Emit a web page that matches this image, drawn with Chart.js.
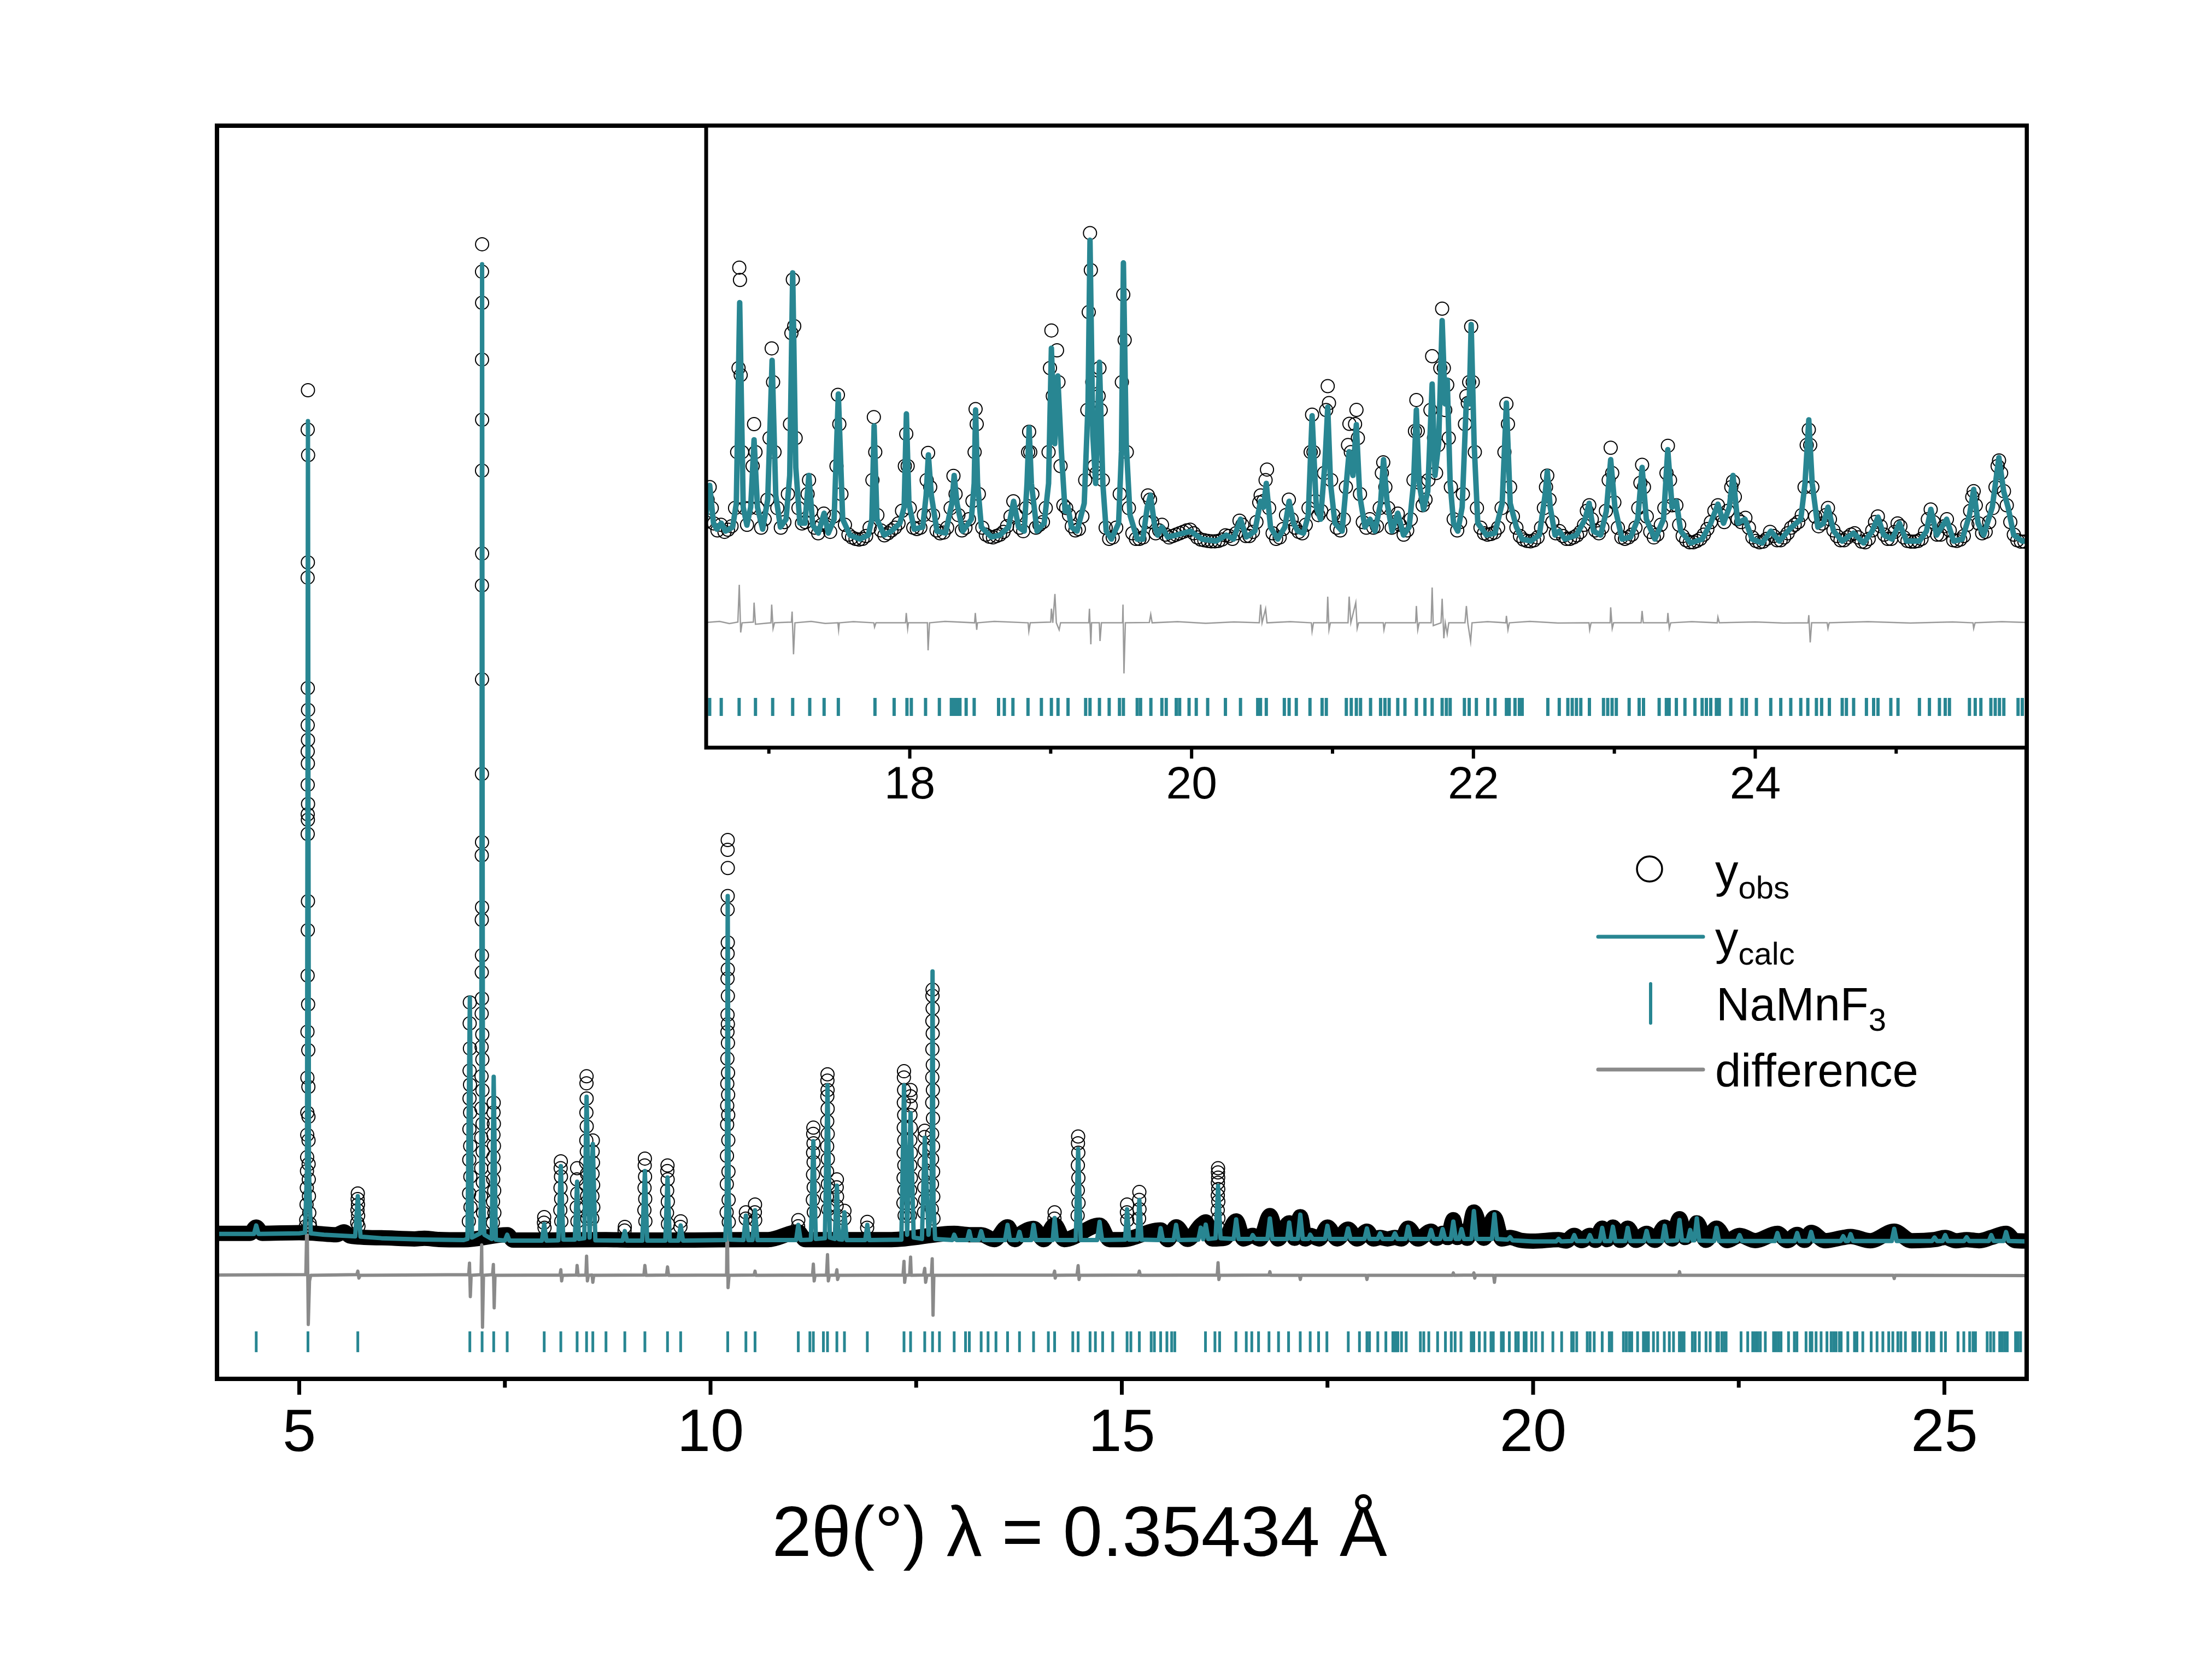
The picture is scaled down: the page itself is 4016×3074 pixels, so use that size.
<!DOCTYPE html>
<html lang="en">
<head>
  <meta charset="UTF-8" />
  <title>NaMnF3 Rietveld refinement</title>
  <script src="https://cdn.jsdelivr.net/npm/chart.js@4"></script>
  <style>
    body { margin: 0; padding: 0; background: #fff; }
    #wrap { position: relative; width: 4016px; height: 3074px; background: #fff; }
    #wrap canvas { position: absolute; left: 0; top: 0; }
  </style>
</head>
<body>
  <div id="wrap">
    <canvas id="mainChart" width="4016" height="3074"></canvas>
    <canvas id="insetChart" width="4016" height="3074"></canvas>
  </div>

  <script>
    // ---- data (2theta in degrees, intensity in arbitrary units) ----
    const mainTickLabels = [5, 10, 15, 20, 25];
    const mainMinorTicks = [7.5, 12.5, 17.5, 22.5];
    const insetTickLabels = [18, 20, 22, 24];
    const insetMinorTicks = [17, 19, 21, 23, 25];

    // NaMnF3 reflection positions
    const reflections = [4.477, 5.106, 5.712, 7.074, 7.223, 7.364, 7.528, 7.978, 8.180, 8.378, 8.493, 8.569, 8.729, 8.958, 9.202, 9.477, 9.637,
      10.209, 10.430, 10.541, 11.067, 11.208, 11.250, 11.372, 11.422, 11.536, 11.628, 11.906, 12.352, 12.432, 12.604, 12.699, 12.783, 12.962,
      13.100, 13.146, 13.290, 13.374, 13.470, 13.611, 13.756, 13.927, 14.107, 14.183, 14.404, 14.469, 14.614, 14.679, 14.767, 14.889, 15.064,
      15.110, 15.213, 15.357, 15.396, 15.472, 15.548, 15.606, 15.644, 16.017, 16.132, 16.189, 16.387, 16.513,
      16.580, 16.662, 16.789, 16.905, 17.027, 17.169, 17.290, 17.392, 17.493, 17.753, 17.889, 17.980, 18.011, 18.112, 18.210, 18.295, 18.310,
      18.325, 18.340, 18.356, 18.400, 18.457, 18.630, 18.671, 18.732, 18.839, 18.934, 19.005, 19.052, 19.123, 19.248, 19.279, 19.346, 19.415,
      19.488, 19.516, 19.614, 19.638, 19.711, 19.789, 19.820, 19.891, 19.915, 19.982, 20.033, 20.114, 20.240, 20.347, 20.469, 20.489, 20.530,
      20.658, 20.692, 20.743, 20.840, 20.926, 20.956, 21.098, 21.133, 21.169, 21.199, 21.270, 21.341, 21.372, 21.402, 21.463, 21.514, 21.595,
      21.656, 21.707, 21.778, 21.808, 21.835, 21.936, 21.970, 22.021, 22.102, 22.153, 22.234, 22.254, 22.295, 22.326, 22.346, 22.528, 22.609,
      22.670, 22.701, 22.731, 22.762, 22.823, 22.923, 22.953, 22.984, 23.014, 23.105, 23.176, 23.207, 23.318, 23.369, 23.389, 23.440, 23.501,
      23.572, 23.623, 23.653, 23.684, 23.724, 23.745, 23.826, 23.907, 23.937, 24.008, 24.110, 24.181, 24.252, 24.323, 24.373, 24.434, 24.471,
      24.526, 24.617, 24.647, 24.698, 24.789, 24.840, 24.871, 24.962, 25.013, 25.165, 25.236, 25.307, 25.348, 25.378, 25.520, 25.561, 25.601,
      25.672, 25.703, 25.733, 25.764, 25.865, 25.895, 25.926];

    // main panel: calculated profile
    const mainCalc = [
      [4.00,1036],[4.45,1036],[4.477,1096],[4.505,1036],[5.00,1040],[5.07,1045],[5.094,1500],[5.106,6843],[5.118,1500],[5.14,1040],
      [5.30,1030],[5.68,1018],[5.712,1305],[5.745,1016],[6.00,1005],[6.50,996],[7.00,992],[7.045,1000],[7.074,2724],[7.10,1010],
      [7.20,1040],[7.212,1400],[7.223,7964],[7.234,1400],[7.25,1030],[7.34,1000],[7.364,2158],[7.39,995],[7.50,988],[7.528,1030],[7.555,988],
      [7.95,988],[7.978,1106],[8.005,988],[8.15,990],[8.18,1520],[8.21,995],[8.35,995],[8.378,1409],[8.40,1000],[8.465,1005],[8.493,2016],
      [8.53,1010],[8.569,1678],[8.60,990],[8.93,988],[8.958,1056],[8.985,988],[9.17,988],[9.202,1485],[9.23,988],[9.45,988],[9.477,1439],
      [9.505,988],[9.61,988],[9.637,1096],[9.665,988],[10.18,992],[10.197,1300],[10.209,3450],[10.221,1300],[10.24,995],[10.40,992],
      [10.43,1167],[10.46,992],[10.51,992],[10.541,1205],[10.57,992],[11.04,992],[11.067,1100],[11.095,992],[11.22,995],[11.25,1699],
      [11.28,1000],[11.39,1005],[11.422,2098],[11.45,1010],[11.51,1000],[11.536,1380],[11.56,998],[11.60,995],[11.628,1190],[11.655,992],
      [11.88,992],[11.906,1100],[11.93,992],[12.32,995],[12.352,2098],[12.39,1030],[12.432,1900],[12.47,1010],[12.57,1000],[12.604,1723],
      [12.65,1030],[12.687,1250],[12.699,2911],[12.711,1250],[12.73,1000],[12.94,992],[12.962,1030],[12.99,992],[13.12,992],[13.146,1055],
      [13.17,992],[13.26,992],[13.29,1055],[13.32,992],[13.58,992],[13.611,1100],[13.64,992],[13.73,992],[13.756,1050],[13.78,992],
      [13.90,992],[13.927,1100],[13.955,992],[14.16,992],[14.183,1149],[14.21,992],[14.44,992],[14.469,1643],[14.50,992],[14.70,992],
      [14.73,1122],[14.76,992],[15.04,995],[15.064,1212],[15.09,995],[15.19,995],[15.213,1279],[15.24,995],[15.45,992],[15.472,1077],
      [15.50,992],[15.63,992],[15.66,1100],[15.69,992],[15.93,995],[15.96,1080],[15.99,998],[16.02,1102],[16.05,1000],[16.14,1005],
      [16.17,1378],[16.20,1005],[16.36,1000],[16.39,1139],[16.42,1000],[16.57,1000],[16.59,1027],[16.62,1000],[16.77,1000],[16.80,1146],
      [16.83,1000],[17.01,1000],[17.035,1117],[17.06,1000],[17.14,1000],[17.17,1173],[17.20,1000],[17.27,1000],[17.29,1030],[17.32,1000],
      [17.47,1000],[17.50,1094],[17.53,1000],[17.72,1000],[17.75,1075],[17.78,1000],[17.95,1000],[17.98,1075],[18.01,1000],[18.11,1000],
      [18.14,1040],[18.17,1000],[18.29,1000],[18.32,1040],[18.35,1000],[18.45,1000],[18.48,1087],[18.51,1000],[18.73,1000],[18.76,1064],
      [18.79,1000],[18.87,1000],[18.90,1070],[18.93,1000],[19.00,1000],[19.03,1124],[19.06,1000],[19.10,1000],[19.13,1070],[19.16,1000],
      [19.25,1000],[19.28,1199],[19.31,1000],[19.50,1000],[19.53,1176],[19.56,1000],[19.69,995],[19.72,1012],[19.75,990],[20.00,982],
      [20.28,982],[20.31,1000],[20.34,982],[20.47,985],[20.50,1027],[20.53,985],[20.66,985],[20.69,1027],[20.72,985],[20.81,985],
      [20.84,1079],[20.87,985],[20.94,985],[20.97,1087],[21.00,985],[21.12,985],[21.15,1079],[21.18,985],[21.35,985],[21.38,1057],
      [21.41,985],[21.57,985],[21.60,1094],[21.63,985],[21.75,990],[21.78,1135],[21.81,990],[21.88,988],[21.91,1064],[21.94,990],
      [21.96,990],[21.99,1147],[22.02,988],[22.20,985],[22.23,1079],[22.26,985],[22.48,985],[22.51,1027],[22.54,985],[22.94,985],
      [22.97,1042],[23.00,985],[23.18,985],[23.21,1042],[23.24,985],[23.35,985],[23.38,1050],[23.41,985],[23.74,985],[23.77,1019],
      [23.80,985],[23.83,985],[23.86,1034],[23.89,985],[24.36,985],[24.39,1072],[24.42,985],[24.85,985],[24.88,1010],[24.91,985],
      [24.98,985],[25.01,1027],[25.04,985],[25.24,985],[25.27,1012],[25.30,985],[25.54,985],[25.57,1027],[25.60,985],[25.72,985],
      [25.75,1049],[25.78,985],[26.00,982]
    ];

    // main panel: observed points on the strong reflections
    const mainObsPeaks = [
      [5.106,7064],[5.103,6783],[5.108,6600],[5.105,5834],[5.102,5725],[5.104,4936],[5.107,4780],[5.103,4671],[5.106,4565],[5.103,4483],
      [5.105,4397],[5.103,4245],[5.107,4108],[5.103,4034],[5.105,3995],[5.103,3893],[5.106,3413],[5.104,3206],[5.102,2882],[5.108,2676],
      [5.100,2481],[5.110,2349],[5.099,2152],[5.111,2086],[5.098,1903],[5.112,1873],[5.097,1744],[5.113,1704],[5.096,1584],[5.114,1535],
      [5.094,1485],[5.116,1425],[5.092,1365],[5.118,1305],[5.089,1246],[5.122,1186],[5.085,1136],[5.127,1110],[5.080,1090],[5.133,1085],
      [5.712,1325],[5.710,1285],[5.714,1246],[5.708,1206],[5.716,1166],[5.705,1116],[5.720,1090],
      [7.074,2690],[7.072,2540],[7.075,2361],[7.071,2202],[7.076,2102],[7.070,2003],[7.077,1903],[7.069,1784],[7.078,1664],[7.067,1565],
      [7.080,1445],[7.065,1325],[7.082,1226],[7.062,1126],
      [7.223,8107],[7.222,7911],[7.223,7689],[7.222,7283],[7.223,6853],[7.222,6490],[7.223,5897],[7.221,5670],[7.222,4998],[7.221,4323],
      [7.222,3835],[7.219,3741],[7.222,3370],[7.219,3280],[7.221,3026],[7.219,2905],[7.221,2718],[7.218,2610],[7.225,2461],[7.217,2371],
      [7.226,2282],[7.216,2162],[7.227,2062],[7.215,1933],[7.228,1823],[7.213,1724],[7.230,1624],[7.212,1505],[7.232,1405],[7.210,1305],
      [7.235,1186],
      [7.364,1973],[7.362,1903],[7.366,1823],[7.361,1744],[7.367,1664],[7.360,1584],[7.368,1505],[7.358,1425],[7.370,1345],[7.356,1266],
      [7.372,1186],[7.354,1116],
      [7.978,1156],[7.975,1116],[7.982,1080],
      [8.180,1554],[8.178,1505],[8.182,1445],[8.176,1365],[8.184,1286],[8.174,1206],[8.186,1126],
      [8.378,1505],[8.376,1425],[8.380,1325],[8.374,1226],[8.382,1126],
      [8.493,2162],[8.492,2112],[8.494,2003],[8.491,1903],[8.495,1804],[8.490,1704],[8.496,1624],[8.488,1545],[8.498,1465],[8.486,1385],
      [8.500,1305],[8.484,1226],[8.502,1146],
      [8.569,1704],[8.567,1624],[8.571,1545],[8.566,1465],[8.573,1385],[8.564,1305],[8.575,1226],[8.562,1146],
      [8.958,1086],[8.955,1060],
      [9.202,1574],[9.200,1525],[9.204,1445],[9.198,1365],[9.206,1286],[9.196,1206],[9.208,1126],
      [9.477,1525],[9.475,1485],[9.479,1425],[9.473,1345],[9.481,1266],[9.471,1186],[9.483,1106],
      [9.637,1126],[9.634,1086],
      [10.209,3850],[10.208,3780],[10.210,3650],[10.209,3450],[10.208,3353],[10.210,3118],[10.208,3039],[10.210,2927],[10.207,2860],
      [10.211,2736],[10.207,2602],[10.211,2535],[10.206,2479],[10.212,2400],[10.205,2288],[10.213,2187],[10.204,2109],[10.214,2030],
      [10.203,1952],[10.215,1885],[10.202,1817],[10.216,1705],[10.200,1593],[10.218,1481],[10.198,1391],[10.220,1279],[10.196,1190],
      [10.222,1120],
      [10.430,1190],[10.428,1145],[10.541,1246],[10.539,1190],[10.543,1134],[11.067,1134],[11.065,1090],
      [11.250,1795],[11.248,1750],[11.252,1683],[11.247,1616],[11.253,1548],[11.246,1459],[11.254,1369],[11.244,1279],[11.256,1190],
      [11.422,2176],[11.421,2131],[11.423,2064],[11.420,2019],[11.424,1930],[11.419,1840],[11.425,1750],[11.418,1661],[11.426,1571],
      [11.417,1481],[11.427,1391],[11.415,1302],[11.429,1212],
      [11.536,1425],[11.534,1369],[11.538,1302],[11.533,1235],[11.540,1167],[11.628,1201],[11.626,1145],[11.906,1122],[11.904,1080],
      [12.352,2198],[12.351,2154],[12.353,2064],[12.350,1974],[12.354,1885],[12.349,1795],[12.355,1705],[12.348,1616],[12.356,1526],
      [12.347,1436],[12.358,1347],[12.345,1257],[12.360,1167],
      [12.432,2064],[12.431,2019],[12.433,1952],[12.430,1885],[12.434,1795],[12.429,1705],[12.435,1616],[12.428,1526],[12.436,1436],
      [12.426,1347],[12.438,1257],[12.424,1167],
      [12.604,1773],[12.602,1728],[12.606,1638],[12.600,1548],[12.608,1459],[12.598,1369],[12.610,1279],[12.596,1190],
      [12.699,2781],[12.698,2737],[12.700,2647],[12.697,2557],[12.701,2468],[12.697,2355],[12.702,2243],[12.696,2154],[12.703,2064],
      [12.695,1974],[12.704,1862],[12.694,1750],[12.705,1661],[12.693,1571],[12.706,1481],[12.692,1391],[12.708,1302],[12.690,1212],
      [12.710,1145],
      [14.183,1190],[14.181,1145],
      [14.469,1732],[14.467,1683],[14.471,1616],[14.466,1526],[14.472,1436],[14.465,1347],[14.474,1257],[14.463,1167],
      [15.064,1246],[15.062,1190],[15.066,1134],[15.213,1335],[15.211,1279],[15.215,1212],[15.210,1145],
      [16.170,1505],[16.169,1475],[16.171,1438],[16.168,1401],[16.172,1356],[16.167,1311],[16.173,1266],[16.166,1206],[16.174,1147],
      [16.165,1087]
    ];

    // main panel: observed background band (densely packed points)
    const mainObsBand = [
      [4.00,1040],[4.40,1040],[4.477,1085],[4.55,1040],[5.00,1045],[5.20,1040],[5.45,1030],[5.545,1050],[5.62,1020],[6.00,1008],
      [6.40,1000],[6.52,1005],[6.70,996],[7.00,994],[7.53,1030],[7.60,992],[8.00,992],[8.73,995],[9.00,992],[9.80,992],[10.40,995],
      [10.70,995],[11.067,1050],[11.15,995],[11.80,995],[12.20,995],[12.962,1040],[13.146,1030],[13.29,1030],[13.45,995],[13.611,1087],
      [13.70,995],[13.756,1030],[13.927,1075],[14.05,995],[14.183,1100],[14.30,995],[14.73,1098],[14.85,995],[15.00,995],[15.472,1064],
      [15.56,995],[15.66,1087],[15.80,997],[15.96,1098],[16.02,1122],[16.10,1000],[16.25,1005],[16.39,1129],[16.48,1000],[16.59,1025],
      [16.68,1000],[16.80,1167],[16.90,1000],[17.035,1115],[17.10,1005],[17.17,1159],[17.23,1000],[17.29,1025],[17.40,1000],[17.50,1085],
      [17.62,1000],[17.75,1070],[17.86,1000],[17.98,1055],[18.06,1000],[18.14,1010],[18.23,1000],[18.32,1010],[18.40,1000],[18.48,1077],
      [18.60,1000],[18.76,1055],[18.83,1005],[18.90,1040],[18.96,1010],[19.03,1137],[19.08,1010],[19.13,1055],[19.20,1005],[19.28,1192],
      [19.40,1005],[19.53,1152],[19.62,1000],[19.72,1010],[19.85,990],[20.00,984],[20.31,995],[20.40,985],[20.50,1025],[20.59,988],
      [20.69,1025],[20.76,990],[20.84,1077],[20.90,995],[20.97,1085],[21.06,990],[21.15,1077],[21.25,990],[21.38,1040],[21.48,990],
      [21.60,1085],[21.69,1000],[21.78,1144],[21.85,1010],[21.91,1055],[21.95,1040],[21.99,1115],[22.10,990],[22.23,1077],[22.36,988],
      [22.51,1025],[22.70,988],[22.97,1040],[23.09,988],[23.21,1032],[23.30,990],[23.38,1047],[23.55,987],[23.77,1010],[23.86,1017],
      [24.10,987],[24.39,1055],[24.60,987],[24.88,995],[25.01,1010],[25.14,987],[25.27,995],[25.42,987],[25.57,1010],[25.75,1040],
      [25.86,988],[26.00,985]
    ];

    // main panel: difference curve (offset)
    const mainDiff = [
      [4.00,742],[5.08,745],[5.095,1206],[5.11,389],[5.125,700],[5.14,740],[5.70,745],[5.712,770],[5.725,720],[5.74,740],[7.06,745],
      [7.07,827],[7.08,588],[7.09,740],[7.21,745],[7.218,957],[7.228,369],[7.24,740],[7.35,745],[7.36,817],[7.37,508],[7.38,740],
      [8.17,742],[8.18,780],[8.19,700],[8.20,740],[8.37,742],[8.378,810],[8.39,740],[8.485,742],[8.493,877],[8.503,700],[8.515,740],
      [8.56,742],[8.569,690],[8.58,740],[9.19,742],[9.202,810],[9.215,740],[9.465,742],[9.477,800],[9.49,740],[10.195,742],[10.203,1201],
      [10.213,652],[10.225,740],[10.53,742],[10.541,770],[10.55,740],[11.24,742],[11.25,820],[11.26,700],[11.27,740],[11.41,742],
      [11.422,887],[11.432,700],[11.445,740],[11.525,742],[11.536,780],[11.545,710],[11.56,740],[12.34,742],[12.352,840],[12.36,690],
      [12.37,740],[12.42,742],[12.432,870],[12.44,740],[12.59,742],[12.604,790],[12.615,690],[12.63,740],[12.685,742],[12.695,858],
      [12.705,455],[12.715,740],[14.17,742],[14.183,770],[14.19,720],[14.20,740],[14.455,742],[14.469,809],[14.48,710],[14.49,740],
      [15.20,742],[15.213,770],[15.225,740],[16.16,742],[16.17,830],[16.18,710],[16.19,740],[16.79,742],[16.80,766],[16.81,740],
      [17.16,740],[17.17,710],[17.18,740],[17.97,740],[17.98,710],[17.99,740],[19.02,740],[19.03,757],[19.04,740],[19.27,742],[19.28,757],
      [19.29,720],[19.30,740],[19.52,740],[19.53,690],[19.54,740],[21.77,740],[21.78,766],[21.79,740],[24.38,740],[24.39,717],[24.40,740],
      [26.00,738]
    ];

    // inset: calculated profile
    const insetCalc = [
      [16.55,1620],[16.58,1862],[16.607,1592],[16.631,1549],[16.662,1592],[16.692,1535],[16.743,1564],[16.769,1734],[16.793,3168],
      [16.818,1706],[16.844,1578],[16.871,1706],[16.895,2188],[16.919,1706],[16.956,1549],[16.992,1762],[17.023,2756],[17.049,1791],
      [17.082,1564],[17.122,1620],[17.148,1933],[17.169,3381],[17.191,1990],[17.22,1592],[17.256,1592],[17.284,1933],[17.311,1578],
      [17.351,1521],[17.392,1663],[17.422,1521],[17.463,1620],[17.493,2515],[17.524,1620],[17.575,1507],[17.646,1478],[17.706,1507],
      [17.731,1620],[17.747,2288],[17.767,1620],[17.818,1507],[17.869,1535],[17.93,1592],[17.96,1706],[17.976,2373],[17.994,1734],
      [18.031,1549],[18.092,1564],[18.116,1791],[18.132,2080],[18.153,1791],[18.193,1535],[18.254,1521],[18.299,1734],[18.315,1933],
      [18.335,1734],[18.376,1535],[18.437,1620],[18.457,1876],[18.467,2401],[18.481,1876],[18.508,1564],[18.579,1493],[18.64,1507],
      [18.701,1564],[18.737,1748],[18.772,1564],[18.812,1535],[18.832,1876],[18.847,2274],[18.863,1876],[18.903,1535],[18.954,1592],
      [18.985,1876],[19.005,2842],[19.029,2160],[19.05,2643],[19.076,2103],[19.102,1677],[19.123,1706],[19.147,1564],[19.187,1535],
      [19.238,1734],[19.265,2444],[19.279,3614],[19.299,2217],[19.319,1876],[19.346,2742],[19.37,1876],[19.394,1535],[19.431,1478],
      [19.482,1592],[19.502,2103],[19.516,3452],[19.536,2160],[19.563,1649],[19.614,1478],[19.654,1478],[19.685,1706],[19.708,1791],
      [19.739,1564],[19.759,1507],[19.789,1564],[19.83,1493],[19.891,1507],[19.992,1535],[20.073,1478],[20.175,1464],[20.246,1507],
      [20.297,1478],[20.347,1620],[20.388,1493],[20.449,1535],[20.489,1748],[20.51,1706],[20.53,1876],[20.56,1564],[20.611,1478],
      [20.662,1564],[20.692,1748],[20.723,1592],[20.753,1535],[20.794,1521],[20.828,1649],[20.855,2359],[20.885,1706],[20.915,1620],
      [20.946,2018],[20.966,2421],[20.986,1876],[21.017,1592],[21.068,1535],[21.098,1876],[21.118,2103],[21.145,1933],[21.169,2296],
      [21.193,1791],[21.23,1564],[21.266,1620],[21.301,1535],[21.341,1734],[21.362,2046],[21.388,1734],[21.423,1535],[21.463,1663],
      [21.504,1507],[21.544,1564],[21.575,1876],[21.595,2401],[21.615,1876],[21.646,1691],[21.676,1819],[21.707,2586],[21.727,1933],
      [21.753,2160],[21.778,3040],[21.799,2444],[21.814,2614],[21.835,1876],[21.859,1592],[21.889,1535],[21.92,1706],[21.95,2472],
      [21.97,2444],[21.984,3012],[22.005,2160],[22.031,1592],[22.092,1507],[22.153,1521],[22.204,1734],[22.234,2450],[22.261,1734],
      [22.305,1564],[22.346,1478],[22.407,1464],[22.468,1507],[22.508,1791],[22.524,1961],[22.545,1706],[22.579,1507],[22.609,1535],
      [22.65,1478],[22.731,1507],[22.792,1620],[22.821,1734],[22.852,1535],[22.903,1507],[22.943,1677],[22.974,2046],[23.004,1706],
      [23.055,1478],[23.116,1493],[23.166,1620],[23.197,1990],[23.227,1620],[23.288,1478],[23.349,1620],[23.379,2117],[23.41,1706],
      [23.44,1748],[23.471,1535],[23.542,1450],[23.623,1478],[23.684,1592],[23.735,1728],[23.775,1592],[23.816,1706],[23.842,1933],
      [23.876,1592],[23.927,1620],[23.978,1478],[24.049,1450],[24.11,1535],[24.171,1464],[24.252,1558],[24.323,1620],[24.353,1876],
      [24.38,2330],[24.404,1876],[24.444,1564],[24.485,1592],[24.516,1706],[24.556,1535],[24.617,1464],[24.698,1521],[24.769,1450],
      [24.83,1535],[24.871,1635],[24.911,1507],[24.972,1478],[25.023,1592],[25.073,1464],[25.165,1464],[25.215,1535],[25.246,1691],
      [25.287,1507],[25.358,1620],[25.408,1464],[25.469,1478],[25.52,1649],[25.55,1833],[25.581,1592],[25.621,1507],[25.682,1706],
      [25.729,2061],[25.763,1819],[25.794,1706],[25.834,1507],[25.895,1464],[25.926,1464]
    ];

    // inset: observed points
    const insetObs = [
      [16.55,1600],[16.565,1760],[16.58,1850],[16.595,1700],[16.61,1590],[16.635,1540],[16.66,1580],[16.685,1530],[16.71,1545],
      [16.735,1570],[16.76,1700],[16.775,2100],[16.785,2700],[16.79,3418],[16.795,3330],[16.80,2650],[16.81,2100],[16.825,1700],
      [16.845,1580],[16.865,1700],[16.885,2000],[16.895,2300],[16.905,2100],[16.92,1700],[16.945,1560],[16.97,1620],[16.99,1760],
      [17.005,2200],[17.02,2841],[17.03,2600],[17.04,2100],[17.06,1700],[17.085,1560],[17.11,1600],[17.135,1800],[17.15,2300],
      [17.16,2950],[17.17,3333],[17.18,3000],[17.19,2200],[17.21,1700],[17.235,1590],[17.26,1600],[17.275,1800],[17.285,1900],
      [17.30,1680],[17.325,1560],[17.35,1520],[17.375,1580],[17.39,1660],[17.41,1580],[17.435,1530],[17.46,1640],[17.48,2000],
      [17.49,2509],[17.50,2300],[17.515,1800],[17.54,1580],[17.565,1510],[17.59,1490],[17.615,1480],[17.64,1475],[17.665,1480],
      [17.69,1500],[17.715,1560],[17.735,1900],[17.745,2350],[17.755,2100],[17.77,1650],[17.795,1540],[17.82,1505],[17.845,1520],
      [17.87,1540],[17.895,1560],[17.92,1590],[17.945,1680],[17.965,2000],[17.975,2230],[17.985,2000],[18.00,1700],[18.025,1560],
      [18.05,1550],[18.075,1560],[18.10,1650],[18.12,1900],[18.13,2094],[18.145,1850],[18.165,1650],[18.19,1540],[18.215,1520],
      [18.24,1525],[18.265,1560],[18.29,1700],[18.31,1930],[18.325,1800],[18.345,1650],[18.37,1540],[18.395,1560],[18.42,1620],
      [18.445,1750],[18.46,2100],[18.467,2407],[18.475,2300],[18.49,1800],[18.515,1560],[18.54,1510],[18.565,1495],[18.59,1490],
      [18.615,1500],[18.64,1510],[18.665,1530],[18.69,1570],[18.715,1640],[18.735,1748],[18.755,1650],[18.78,1560],[18.805,1535],
      [18.825,1700],[18.84,2100],[18.847,2245],[18.855,2100],[18.87,1800],[18.895,1560],[18.92,1580],[18.945,1600],[18.965,1700],
      [18.985,2100],[18.995,2700],[19.005,2969],[19.015,2500],[19.03,2400],[19.045,2827],[19.055,2600],[19.07,2000],[19.09,1720],
      [19.11,1700],[19.13,1650],[19.15,1570],[19.175,1540],[19.20,1550],[19.225,1640],[19.245,1900],[19.26,2400],[19.27,3100],
      [19.279,3665],[19.285,3400],[19.295,2600],[19.31,2000],[19.325,1950],[19.34,2500],[19.346,2700],[19.355,2400],[19.37,1900],
      [19.39,1560],[19.415,1480],[19.44,1490],[19.465,1560],[19.49,1800],[19.505,2600],[19.515,3225],[19.525,2900],[19.54,2100],
      [19.555,1700],[19.58,1520],[19.605,1480],[19.63,1480],[19.655,1490],[19.675,1600],[19.69,1790],[19.705,1760],[19.72,1600],
      [19.745,1520],[19.77,1540],[19.79,1580],[19.815,1510],[19.84,1490],[19.865,1500],[19.89,1510],[19.915,1520],[19.94,1530],
      [19.965,1540],[19.99,1545],[20.015,1520],[20.04,1490],[20.065,1475],[20.09,1470],[20.115,1465],[20.14,1462],[20.165,1462],
      [20.19,1465],[20.215,1475],[20.24,1505],[20.265,1500],[20.29,1480],[20.315,1520],[20.34,1610],[20.36,1580],[20.385,1500],
      [20.41,1500],[20.435,1530],[20.46,1600],[20.48,1740],[20.49,1790],[20.51,1750],[20.525,1900],[20.535,1975],[20.55,1700],
      [20.575,1520],[20.60,1480],[20.625,1490],[20.65,1550],[20.67,1650],[20.69,1760],[20.71,1620],[20.735,1560],[20.76,1530],
      [20.785,1520],[20.81,1580],[20.83,1700],[20.845,2100],[20.855,2367],[20.865,2100],[20.88,1750],[20.90,1650],[20.92,1680],
      [20.94,1950],[20.955,2400],[20.966,2571],[20.975,2450],[20.99,1900],[21.005,1650],[21.03,1560],[21.055,1540],[21.08,1620],
      [21.095,1850],[21.11,2150],[21.12,2302],[21.13,2100],[21.145,2000],[21.16,2300],[21.17,2401],[21.18,2200],[21.195,1800],
      [21.215,1600],[21.24,1560],[21.265,1620],[21.29,1560],[21.315,1570],[21.335,1700],[21.35,1950],[21.36,2026],[21.375,1850],
      [21.395,1700],[21.42,1560],[21.445,1600],[21.463,1660],[21.48,1580],[21.505,1510],[21.53,1540],[21.555,1620],[21.575,1900],
      [21.585,2250],[21.595,2472],[21.605,2250],[21.62,1880],[21.64,1720],[21.66,1760],[21.68,1900],[21.695,2400],[21.707,2785],
      [21.72,2200],[21.735,1950],[21.75,2150],[21.765,2700],[21.778,3125],[21.79,2700],[21.80,2400],[21.814,2580],[21.825,2200],
      [21.84,1850],[21.86,1620],[21.885,1540],[21.905,1600],[21.925,1800],[21.94,2300],[21.95,2500],[21.96,2450],[21.97,2600],
      [21.984,2997],[21.995,2600],[22.01,2100],[22.025,1700],[22.05,1560],[22.075,1520],[22.10,1510],[22.125,1515],[22.15,1525],
      [22.175,1560],[22.20,1700],[22.22,2100],[22.234,2444],[22.245,2300],[22.26,1850],[22.28,1640],[22.305,1560],[22.33,1500],
      [22.355,1475],[22.38,1465],[22.405,1462],[22.43,1470],[22.455,1490],[22.48,1560],[22.50,1700],[22.515,1850],[22.524,1932],
      [22.54,1760],[22.56,1600],[22.585,1520],[22.61,1535],[22.635,1500],[22.66,1480],[22.685,1480],[22.71,1490],[22.735,1505],
      [22.76,1530],[22.785,1580],[22.805,1680],[22.822,1720],[22.84,1620],[22.865,1540],[22.89,1520],[22.915,1560],[22.94,1680],
      [22.96,1900],[22.974,2131],[22.985,1950],[23.00,1740],[23.025,1560],[23.05,1490],[23.075,1480],[23.10,1490],[23.125,1510],
      [23.15,1560],[23.17,1700],[23.185,1880],[23.197,2009],[23.21,1850],[23.23,1640],[23.255,1530],[23.28,1490],[23.305,1510],
      [23.33,1580],[23.355,1700],[23.37,1950],[23.38,2145],[23.395,1900],[23.41,1720],[23.44,1720],[23.46,1580],[23.485,1500],
      [23.51,1470],[23.535,1455],[23.56,1455],[23.585,1465],[23.61,1480],[23.635,1510],[23.66,1550],[23.685,1600],[23.71,1680],
      [23.735,1720],[23.755,1650],[23.78,1600],[23.805,1680],[23.83,1850],[23.842,1890],[23.855,1780],[23.875,1620],[23.90,1600],
      [23.93,1630],[23.955,1560],[23.98,1490],[24.005,1465],[24.03,1455],[24.055,1460],[24.08,1480],[24.105,1530],[24.13,1500],
      [24.155,1470],[24.18,1470],[24.205,1490],[24.23,1520],[24.255,1560],[24.28,1580],[24.305,1600],[24.33,1650],[24.35,1850],
      [24.365,2150],[24.38,2260],[24.39,2150],[24.405,1850],[24.425,1640],[24.45,1570],[24.475,1590],[24.50,1650],[24.516,1700],
      [24.53,1620],[24.555,1540],[24.58,1500],[24.605,1470],[24.63,1470],[24.655,1490],[24.68,1510],[24.705,1520],[24.73,1490],
      [24.755,1460],[24.78,1455],[24.805,1480],[24.83,1540],[24.85,1600],[24.87,1640],[24.89,1570],[24.915,1510],[24.94,1480],
      [24.965,1480],[24.99,1530],[25.01,1590],[25.03,1570],[25.055,1490],[25.08,1465],[25.105,1460],[25.13,1460],[25.155,1465],
      [25.18,1480],[25.205,1530],[25.225,1620],[25.245,1690],[25.265,1600],[25.29,1510],[25.315,1510],[25.34,1570],[25.36,1620],
      [25.38,1540],[25.405,1470],[25.43,1465],[25.455,1475],[25.48,1500],[25.505,1580],[25.525,1680],[25.54,1780],[25.55,1820],
      [25.565,1720],[25.585,1590],[25.61,1520],[25.635,1530],[25.66,1600],[25.685,1700],[25.705,1850],[25.72,2000],[25.73,2040],
      [25.745,1950],[25.765,1820],[25.785,1720],[25.81,1600],[25.835,1510],[25.86,1470],[25.885,1460],[25.91,1460]
    ];

    // inset: difference curve (offset)
    const insetDiff = [
      [16.55,882],[16.65,890],[16.72,875],[16.78,885],[16.79,1152],[16.80,811],[16.81,880],[16.89,885],[16.895,1024],[16.905,870],
      [17.015,880],[17.02,1010],[17.03,840],[17.04,880],[17.16,885],[17.165,960],[17.175,655],[17.185,880],[17.30,890],[17.40,875],
      [17.49,880],[17.495,830],[17.50,880],[17.60,888],[17.745,880],[17.75,850],[17.76,880],[17.97,880],[17.975,950],[17.985,840],
      [17.99,880],[18.125,880],[18.13,683],[18.14,880],[18.25,890],[18.46,880],[18.465,950],[18.475,830],[18.48,880],[18.60,890],
      [18.84,880],[18.845,820],[18.855,880],[19.00,885],[19.005,981],[19.015,880],[19.03,1086],[19.04,880],[19.06,830],[19.07,880],
      [19.27,880],[19.275,981],[19.285,726],[19.29,880],[19.345,880],[19.35,750],[19.36,880],[19.51,880],[19.513,1010],[19.52,518],
      [19.53,880],[19.70,882],[19.71,940],[19.72,880],[19.90,888],[20.10,876],[20.30,886],[20.48,880],[20.49,1010],[20.50,880],
      [20.525,980],[20.535,880],[20.70,888],[20.85,880],[20.855,820],[20.865,880],[20.96,880],[20.966,1067],[20.975,830],[20.985,880],
      [21.11,880],[21.118,1067],[21.13,880],[21.165,1024],[21.175,840],[21.185,880],[21.36,880],[21.365,830],[21.375,880],[21.59,880],
      [21.595,1000],[21.605,830],[21.615,880],[21.70,880],[21.707,1132],[21.715,860],[21.77,880],[21.778,1052],[21.79,769],[21.80,880],
      [21.814,800],[21.825,880],[21.94,880],[21.95,1000],[21.96,880],[21.98,746],[21.99,880],[22.10,888],[22.23,880],[22.234,930],
      [22.245,830],[22.255,880],[22.40,890],[22.60,878],[22.82,880],[22.825,830],[22.835,880],[22.97,880],[22.974,990],[22.985,840],
      [22.995,880],[23.19,880],[23.197,965],[23.205,880],[23.375,880],[23.38,950],[23.39,840],[23.40,880],[23.55,888],[23.73,880],
      [23.735,920],[23.745,880],[24.00,886],[24.20,878],[24.375,880],[24.38,935],[24.39,740],[24.40,880],[24.51,880],[24.516,840],
      [24.525,880],[24.80,888],[25.10,878],[25.40,886],[25.545,880],[25.55,840],[25.56,880],[25.75,888],[25.926,882]
    ];

    // ---- styling ----
    const FONT = "'Liberation Sans', Arial, Helvetica, sans-serif";
    const TEAL = '#288692';
    const GRAY = '#8a8a8a';
    Chart.defaults.font.family = FONT;
    Chart.defaults.color = '#000';

    const toXY = arr => arr.map(([x, y]) => ({ x, y }));

    // white background, black frame and outward tick marks
    const frameTicks = {
      id: 'frameTicks',
      beforeDraw(chart, args, opts) {
        const { ctx, chartArea: a } = chart;
        ctx.save();
        ctx.fillStyle = '#fff';
        if (opts.fillAll) ctx.fillRect(0, 0, chart.width, chart.height);
        else ctx.fillRect(a.left, a.top, a.right - a.left, a.bottom - a.top);
        ctx.restore();
      },
      afterDraw(chart, args, opts) {
        const { ctx, chartArea: a, scales: { x } } = chart;
        ctx.save();
        ctx.strokeStyle = '#000';
        ctx.lineWidth = opts.frame;
        ctx.strokeRect(a.left, a.top, a.right - a.left, a.bottom - a.top);
        ctx.lineWidth = opts.tickWidth;
        ctx.beginPath();
        opts.major.forEach(v => {
          const px = x.getPixelForValue(v);
          ctx.moveTo(px, a.bottom);
          ctx.lineTo(px, a.bottom + opts.majorLen);
        });
        opts.minor.forEach(v => {
          const px = x.getPixelForValue(v);
          ctx.moveTo(px, a.bottom);
          ctx.lineTo(px, a.bottom + opts.minorLen);
        });
        ctx.stroke();
        ctx.restore();
      }
    };

    function subText(ctx, main, sub, x, y, drop) {
      ctx.font = '85px ' + FONT;
      ctx.fillText(main, x, y);
      const w = ctx.measureText(main).width;
      ctx.font = '58px ' + FONT;
      ctx.fillText(sub, x + w, y + drop);
    }

    // legend and axis title of the main panel
    const mainText = {
      id: 'mainText',
      afterDraw(chart) {
        const ctx = chart.ctx;
        ctx.save();
        ctx.lineCap = 'round';
        ctx.strokeStyle = '#000';
        ctx.lineWidth = 3.5;
        ctx.beginPath();
        ctx.arc(3018, 1590, 23, 0, Math.PI * 2);
        ctx.stroke();
        ctx.strokeStyle = TEAL;
        ctx.lineWidth = 7;
        ctx.beginPath(); ctx.moveTo(2924, 1714); ctx.lineTo(3116, 1714); ctx.stroke();
        ctx.lineWidth = 6;
        ctx.beginPath(); ctx.moveTo(3020, 1800); ctx.lineTo(3020, 1872); ctx.stroke();
        ctx.strokeStyle = GRAY;
        ctx.lineWidth = 7;
        ctx.beginPath(); ctx.moveTo(2924, 1957); ctx.lineTo(3116, 1957); ctx.stroke();

        ctx.fillStyle = '#000';
        ctx.textAlign = 'left';
        ctx.textBaseline = 'alphabetic';
        subText(ctx, 'y', 'obs', 3138, 1623, 21);
        subText(ctx, 'y', 'calc', 3138, 1746, 19);
        subText(ctx, 'NaMnF', '3', 3140, 1867, 19);
        ctx.font = '85px ' + FONT;
        ctx.fillText('difference', 3138, 1988);

        ctx.font = '130px ' + FONT;
        ctx.textAlign = 'center';
        ctx.textBaseline = 'middle';
        ctx.fillText('2θ(°) λ = 0.35434 Å', 1975, 2811);
        ctx.restore();
      }
    };

    // ---- main panel ----
    new Chart(document.getElementById('mainChart'), {
      type: 'scatter',
      data: {
        datasets: [
          {
            label: 'ycalc',
            data: toXY(mainCalc),
            showLine: true,
            borderColor: TEAL,
            borderWidth: 8,
            borderJoinStyle: 'round',
            borderCapStyle: 'round',
            pointRadius: 0,
            order: 0
          },
          {
            label: 'yobs',
            data: toXY(mainObsPeaks),
            pointStyle: 'circle',
            pointRadius: 12,
            pointBorderWidth: 2,
            pointBorderColor: '#000',
            pointBackgroundColor: 'rgba(0,0,0,0)',
            order: 1
          },
          {
            label: 'difference',
            data: toXY(mainDiff),
            showLine: true,
            borderColor: GRAY,
            borderWidth: 6,
            borderJoinStyle: 'round',
            pointRadius: 0,
            order: 2
          },
          {
            label: 'NaMnF3',
            data: reflections.map(v => ({ x: v, y: 265 })),
            pointStyle: 'line',
            pointRotation: 90,
            pointRadius: 19,
            pointBorderWidth: 5,
            pointBorderColor: TEAL,
            order: 2
          },
          {
            label: 'yobs background',
            data: toXY(mainObsBand),
            showLine: true,
            borderColor: '#000',
            borderWidth: 28,
            borderJoinStyle: 'round',
            borderCapStyle: 'round',
            cubicInterpolationMode: 'monotone',
            pointRadius: 0,
            order: 3
          }
        ]
      },
      options: {
        responsive: false,
        animation: false,
        devicePixelRatio: 1,
        events: [],
        layout: { padding: { left: 397, right: 308, top: 230, bottom: 0 } },
        scales: {
          x: {
            type: 'linear',
            min: 4,
            max: 26,
            afterBuildTicks: s => { s.ticks = mainTickLabels.map(v => ({ value: v })); },
            afterFit: s => { s.height = 551; },
            grid: { display: false, drawTicks: false },
            border: { display: false },
            ticks: { font: { size: 110 }, color: '#000', padding: 36 }
          },
          y: { display: false, min: 0, max: 8954 }
        },
        plugins: {
          legend: { display: false },
          tooltip: { enabled: false },
          frameTicks: { fillAll: true, frame: 8, tickWidth: 7, major: mainTickLabels, minor: mainMinorTicks, majorLen: 29, minorLen: 16 }
        }
      },
      plugins: [frameTicks, mainText]
    });

    // ---- inset panel ----
    new Chart(document.getElementById('insetChart'), {
      type: 'scatter',
      data: {
        datasets: [
          {
            label: 'ycalc',
            data: toXY(insetCalc),
            showLine: true,
            borderColor: TEAL,
            borderWidth: 10,
            borderJoinStyle: 'round',
            borderCapStyle: 'round',
            pointRadius: 0,
            order: 0
          },
          {
            label: 'yobs',
            data: toXY(insetObs),
            pointStyle: 'circle',
            pointRadius: 12,
            pointBorderWidth: 2,
            pointBorderColor: '#000',
            pointBackgroundColor: 'rgba(0,0,0,0)',
            order: 1
          },
          {
            label: 'difference',
            data: toXY(insetDiff),
            showLine: true,
            borderColor: '#9a9a9a',
            borderWidth: 2.5,
            pointRadius: 0,
            order: 2
          },
          {
            label: 'NaMnF3',
            data: reflections.filter(v => v > 16.55).map(v => ({ x: v, y: 279 })),
            pointStyle: 'line',
            pointRotation: 90,
            pointRadius: 16.5,
            pointBorderWidth: 6,
            pointBorderColor: TEAL,
            order: 2
          }
        ]
      },
      options: {
        responsive: false,
        animation: false,
        devicePixelRatio: 1,
        events: [],
        layout: { padding: { left: 1292, right: 308, top: 230, bottom: 1556 } },
        scales: {
          x: {
            type: 'linear',
            min: 16.555,
            max: 25.926,
            afterBuildTicks: s => { s.ticks = insetTickLabels.map(v => ({ value: v })); },
            afterFit: s => { s.height = 150; },
            grid: { display: false, drawTicks: false },
            border: { display: false },
            ticks: { font: { size: 84 }, color: '#000', padding: 19 }
          },
          y: { display: false, min: -12, max: 4432 }
        },
        plugins: {
          legend: { display: false },
          tooltip: { enabled: false },
          frameTicks: { fillAll: false, frame: 7, tickWidth: 6, major: insetTickLabels, minor: insetMinorTicks, majorLen: 20, minorLen: 11 }
        }
      },
      plugins: [frameTicks]
    });
  </script>
</body>
</html>
